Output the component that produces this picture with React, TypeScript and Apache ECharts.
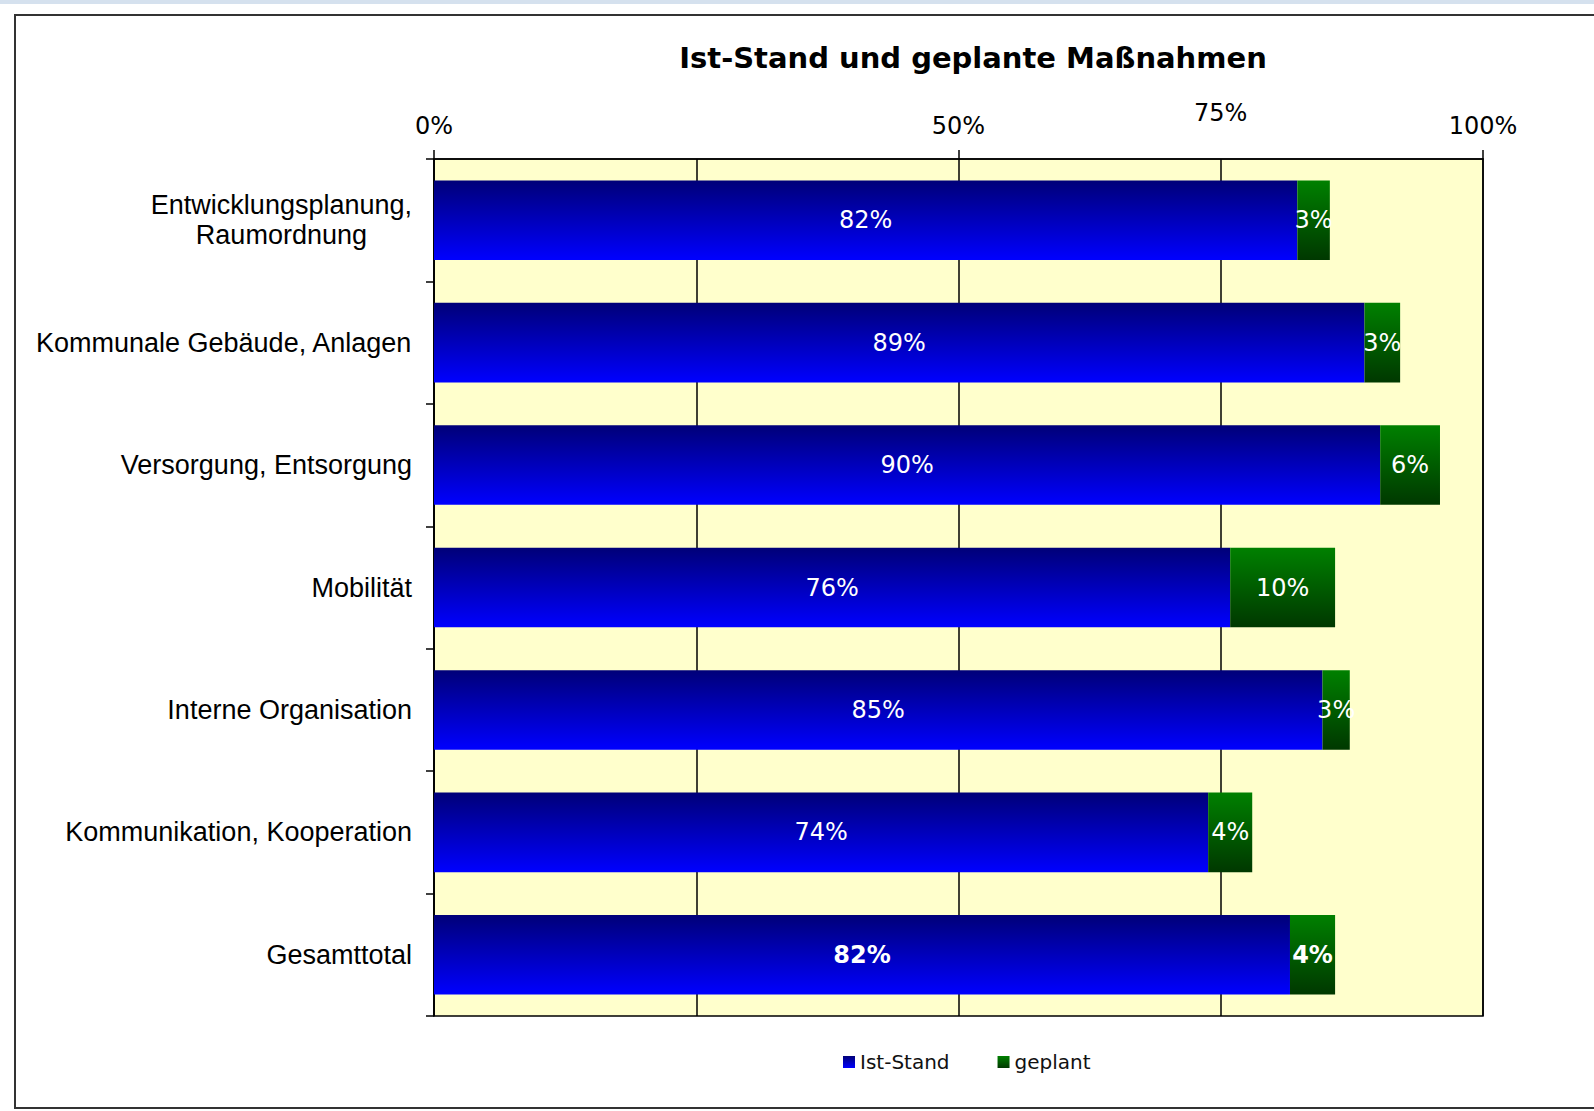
import React, { useEffect, useRef } from "react";
import * as echarts from "echarts";

const TITLE = "Ist-Stand und geplante Maßnahmen";
const categories = [
  "Entwicklungsplanung,\nRaumordnung",
  "Kommunale Gebäude, Anlagen",
  "Versorgung, Entsorgung",
  "Mobilität",
  "Interne Organisation",
  "Kommunikation, Kooperation",
  "Gesamttotal",
];
const istStand = [82.3, 88.7, 90.2, 75.9, 84.7, 73.8, 81.6];
const geplant = [3.1, 3.4, 5.7, 10.0, 2.6, 4.2, 4.3];
const boldIndex = 6;
const seriesNames = ["Ist-Stand", "geplant"];

export default function App() {
  const ref = useRef<HTMLDivElement>(null);
  useEffect(() => {
    if (!ref.current) return;
    const chart = echarts.init(ref.current, null, { renderer: "svg" });
    const blueGrad = new echarts.graphic.LinearGradient(0, 0, 0, 1, [
      { offset: 0, color: "#000078" },
      { offset: 1, color: "#0000FF" },
    ]);
    const greenGrad = new echarts.graphic.LinearGradient(0, 0, 0, 1, [
      { offset: 0, color: "#008000" },
      { offset: 1, color: "#003800" },
    ]);
    const labelBase = {
      show: true,
      position: "inside",
      color: "#ffffff",
      fontFamily: "DejaVu Sans",
      fontSize: 24,
      formatter: (p: any) => Math.round(p.value) + "%",
    };
    const mk = (arr: number[]) =>
      arr.map((v, i) =>
        i === boldIndex ? { value: v, label: { fontWeight: "bold" } } : v
      );
    const axisFont = { fontFamily: "DejaVu Sans", fontSize: 24, color: "#000" };
    chart.setOption({
      animation: false,
      backgroundColor: "#ffffff",
      title: {
        text: TITLE,
        left: 968,
        textAlign: "center",
        top: 38,
        textStyle: {
          fontFamily: "DejaVu Sans",
          fontWeight: "bold",
          fontSize: 29,
          color: "#000",
        },
      },
      legend: {
        data: seriesNames,
        left: 838,
        top: 1047,
        itemWidth: 12,
        itemHeight: 12,
        itemGap: 48,
        icon: "rect",
        textStyle: { fontFamily: "DejaVu Sans", fontSize: 20, color: "#111" },
      },
      grid: {
        left: 434,
        top: 159,
        width: 1049,
        height: 857,
        show: true,
        backgroundColor: "#FFFFCC",
        borderColor: "#000",
        borderWidth: 1.5,
      },
      graphic: [
        { type: "rect", shape: { x: 0, y: 0, width: 1594, height: 4 }, style: { fill: "#d5e1ee" } },
        {
          type: "rect",
          shape: { x: 15, y: 15, width: 1620, height: 1093 },
          style: { fill: "none", stroke: "#333", lineWidth: 2 },
        },
      ],
      xAxis: [
        {
          type: "value",
          position: "top",
          min: 0,
          max: 100,
          interval: 25,
          axisLine: { show: false },
          axisTick: { show: false },
          splitLine: { show: true, lineStyle: { color: "#000", width: 1.5 } },
          axisLabel: {
            ...axisFont,
            margin: 34,
            formatter: (v: number) => (v === 75 ? v + "%" : ""),
          },
        },
        {
          type: "value",
          position: "top",
          min: 0,
          max: 100,
          interval: 50,
          axisLine: { show: true, lineStyle: { color: "#000", width: 1.5 } },
          axisTick: { show: true, length: 9, lineStyle: { color: "#000", width: 1.5 } },
          splitLine: { show: false },
          axisLabel: { ...axisFont, margin: 21, formatter: "{value}%" },
        },
      ],
      yAxis: {
        type: "category",
        inverse: true,
        data: categories,
        axisLine: { show: true, lineStyle: { color: "#000", width: 1.5 } },
        axisTick: { show: true, length: 8, lineStyle: { color: "#000", width: 1.5 } },
        axisLabel: {
          margin: 22,
          color: "#000",
          fontFamily: "Liberation Sans",
          fontSize: 27,
          lineHeight: 30,
          formatter: (v: string) => "{c|" + v + "}",
          rich: { c: { align: "center", fontFamily: "Liberation Sans", fontSize: 27, lineHeight: 30, color: "#000" } },
        },
      },
      series: [
        {
          name: seriesNames[0],
          type: "bar",
          stack: "s",
          xAxisIndex: 0,
          barCategoryGap: "35%",
          itemStyle: { color: blueGrad },
          label: labelBase,
          data: mk(istStand),
        },
        {
          name: seriesNames[1],
          type: "bar",
          stack: "s",
          xAxisIndex: 0,
          barCategoryGap: "35%",
          itemStyle: { color: greenGrad },
          label: labelBase,
          data: mk(geplant),
        },
      ],
    });
    return () => chart.dispose();
  }, []);
  return (
    <div
      ref={ref}
      style={{ position: "fixed", left: 0, top: 0, width: 1594, height: 1111, background: "#fff" }}
    />
  );
}
